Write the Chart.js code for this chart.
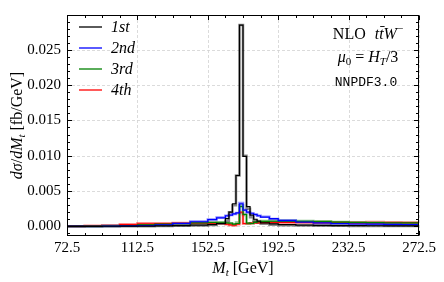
<!DOCTYPE html>
<html>
<head>
<meta charset="utf-8">
<script src="https://cdn.jsdelivr.net/npm/chart.js@4.4.1/dist/chart.umd.min.js"></script>
<style>
  html, body { margin: 0; padding: 0; background: #fff; }
</style>
</head>
<body>
<canvas id="chart" width="444" height="282"></canvas>
<script>
// bin edges in GeV (finer near the peak)
const binEdges = [
  72.5, 82.5, 92.5, 102.5, 112.5, 122.5, 132.5, 142.5, 152.5, 157.5, 162.5,
  164.5, 166.5, 168.5, 170.5, 172.5, 174.5, 176.5, 178.5, 180.5, 182.5,
  187.5, 192.5, 202.5, 212.5, 222.5, 232.5, 242.5, 252.5, 262.5, 272.5,
];

const seriesNames = ['1st', '2nd', '3rd', '4th'];

const first = [
  0.00000, 0.00000, 0.00001, 0.00002, 0.00004, 0.00006, 0.00010, 0.00016, 0.00025, 0.00040,
  0.00110, 0.00200, 0.00320, 0.00720, 0.02850, 0.00990, 0.00280, 0.00160, 0.00100, 0.00075,
  0.00050, 0.00035, 0.00025, 0.00018, 0.00014, 0.00011, 0.00009, 0.00008, 0.00007, 0.00006,
];
const firstBand = [
  0.00000, 0.00000, 0.00000, 0.00001, 0.00002, 0.00004, 0.00007, 0.00012, 0.00020, 0.00035,
  0.00080, 0.00200, 0.00300, 0.00720, 0.02850, 0.01000, 0.00250, 0.00130, 0.00080, 0.00055,
  0.00035, 0.00022, 0.00015, 0.00010, 0.00008, 0.00007, 0.00006, 0.00005, 0.00005, 0.00005,
];
const second = [
  0.00000, 0.00001, 0.00003, 0.00006, 0.00012, 0.00022, 0.00040, 0.00065, 0.00095, 0.00120,
  0.00150, 0.00160, 0.00175, 0.00190, 0.00320, 0.00230, 0.00200, 0.00185, 0.00170, 0.00150,
  0.00130, 0.00110, 0.00080, 0.00060, 0.00050, 0.00040, 0.00033, 0.00030, 0.00028, 0.00026,
];
const secondBand = [
  0.00000, 0.00001, 0.00003, 0.00007, 0.00014, 0.00025, 0.00043, 0.00068, 0.00098, 0.00125,
  0.00150, 0.00160, 0.00175, 0.00190, 0.00330, 0.00230, 0.00195, 0.00180, 0.00165, 0.00150,
  0.00135, 0.00105, 0.00085, 0.00060, 0.00045, 0.00035, 0.00028, 0.00026, 0.00024, 0.00022,
];
const third = [
  0.00000, 0.00002, 0.00006, 0.00012, 0.00020, 0.00030, 0.00040, 0.00048, 0.00055, 0.00058,
  0.00050, 0.00045, 0.00030, 0.00040, 0.00280, 0.00170, 0.00045, 0.00040, 0.00055, 0.00065,
  0.00070, 0.00072, 0.00072, 0.00070, 0.00068, 0.00060, 0.00055, 0.00052, 0.00050, 0.00048,
];
const thirdBand = [
  0.00000, 0.00002, 0.00005, 0.00010, 0.00018, 0.00028, 0.00038, 0.00046, 0.00052, 0.00055,
  0.00048, 0.00040, 0.00028, 0.00055, 0.00300, 0.00160, 0.00040, 0.00042, 0.00060, 0.00070,
  0.00075, 0.00078, 0.00078, 0.00076, 0.00072, 0.00060, 0.00052, 0.00050, 0.00048, 0.00046,
];
const fourth = [
  0.00000, 0.00005, 0.00012, 0.00025, 0.00035, 0.00038, 0.00042, 0.00045, 0.00045, 0.00040,
  0.00030, 0.00020, 0.00015, 0.00030, 0.00200, 0.00040, 0.00040, 0.00045, 0.00048, 0.00050,
  0.00052, 0.00052, 0.00052, 0.00052, 0.00050, 0.00050, 0.00050, 0.00050, 0.00052, 0.00052,
];
const fourthBand = [
  0.00002, 0.00008, 0.00016, 0.00030, 0.00042, 0.00045, 0.00048, 0.00048, 0.00046, 0.00040,
  0.00028, 0.00018, 0.00013, 0.00028, 0.00190, 0.00035, 0.00038, 0.00045, 0.00050, 0.00055,
  0.00058, 0.00058, 0.00056, 0.00058, 0.00060, 0.00058, 0.00056, 0.00060, 0.00058, 0.00055,
];

const xTicks = [72.5, 112.5, 152.5, 192.5, 232.5, 272.5];
const yTicks = [0, 0.005, 0.01, 0.015, 0.02, 0.025];
const xMinorStep = 10;
const yMinorStep = 0.001;

const colors = ['#000000', '#0000ff', '#008000', '#ff0000'];
const lightColors = ['rgba(0,0,0,0.45)', 'rgba(0,0,255,0.45)', 'rgba(0,128,0,0.45)', 'rgba(255,0,0,0.45)'];

const serif = '"Liberation Serif", "Times New Roman", serif';
const mono = '"Liberation Mono", "DejaVu Sans Mono", monospace';

// histogram -> points with both edges of every bin
const toSteps = (values) => {
  const pts = [];
  values.forEach((v, i) => {
    pts.push({ x: binEdges[i], y: v });
    pts.push({ x: binEdges[i + 1], y: v });
  });
  return pts;
};

const mainSets = [first, second, third, fourth];
const bandSets = [firstBand, secondBand, thirdBand, fourthBand];

const datasets = [];
mainSets.forEach((vals, i) => {
  datasets.push({
    label: seriesNames[i],
    data: toSteps(vals),
    borderColor: colors[i],
    borderWidth: 1.2,
    pointRadius: 0,
    fill: false,
    tension: 0,
    order: 0,
  });
});
bandSets.forEach((vals, i) => {
  datasets.push({
    label: seriesNames[i] + ' band',
    data: toSteps(vals),
    borderColor: lightColors[i],
    borderWidth: 2.5,
    pointRadius: 0,
    fill: false,
    tension: 0,
    order: 1,
  });
});

// draws a sequence of text pieces centred on cx, baseline y
const drawRun = (ctx, parts, cx, y) => {
  let total = 0;
  parts.forEach((p) => {
    ctx.font = `${p.i ? 'italic ' : ''}${p.s}px ${p.f || serif}`;
    p.w = ctx.measureText(p.t).width;
    total += p.w + (p.g || 0);
  });
  let x = cx - total / 2;
  ctx.textAlign = 'left';
  ctx.textBaseline = 'alphabetic';
  parts.forEach((p) => {
    ctx.font = `${p.i ? 'italic ' : ''}${p.s}px ${p.f || serif}`;
    ctx.fillText(p.t, x, y + (p.dy || 0));
    if (p.bar) {
      ctx.beginPath();
      ctx.lineWidth = 0.9;
      ctx.moveTo(x + 1, y - 12.5);
      ctx.lineTo(x + p.w + 1, y - 12.5);
      ctx.stroke();
    }
    x += p.w + (p.g || 0);
  });
};

const decor = {
  id: 'decor',
  beforeDatasetsDraw(chart) {
    const { ctx, chartArea: a, scales: { x, y } } = chart;
    ctx.save();
    ctx.strokeStyle = '#d2d2d2';
    ctx.lineWidth = 0.8;
    ctx.setLineDash([3, 2]);
    xTicks.forEach((v) => {
      const px = Math.round(x.getPixelForValue(v)) + 0.5;
      ctx.beginPath();
      ctx.moveTo(px, a.top);
      ctx.lineTo(px, a.bottom);
      ctx.stroke();
    });
    yTicks.forEach((v) => {
      const py = Math.round(y.getPixelForValue(v)) + 0.5;
      ctx.beginPath();
      ctx.moveTo(a.left, py);
      ctx.lineTo(a.right, py);
      ctx.stroke();
    });
    ctx.restore();
  },
  afterDraw(chart) {
    const { ctx, chartArea: a, scales: { x, y } } = chart;
    const L = Math.round(a.left) + 0.5;
    const R = Math.round(a.right) - 0.5;
    const T = Math.round(a.top) + 0.5;
    const B = Math.round(a.bottom) - 0.5;
    ctx.save();
    ctx.strokeStyle = '#000';
    ctx.fillStyle = '#000';
    ctx.lineWidth = 1;
    ctx.strokeRect(L, T, R - L, B - T);

    const tick = (x1, y1, x2, y2) => {
      ctx.beginPath();
      ctx.moveTo(x1, y1);
      ctx.lineTo(x2, y2);
      ctx.stroke();
    };
    // x ticks, top and bottom, inward
    for (let v = xTicks[0]; v <= xTicks[xTicks.length - 1] + 1e-9; v += xMinorStep) {
      const major = xTicks.some((t) => Math.abs(t - v) < 1e-6);
      const len = major ? 4.5 : 2.5;
      const px = Math.round(x.getPixelForValue(v)) + 0.5;
      tick(px, B, px, B - len);
      tick(px, T, px, T + len);
    }
    // y ticks, left and right, inward
    for (let k = -1; k <= 29; k++) {
      const v = k * yMinorStep;
      const major = yTicks.some((t) => Math.abs(t - v) < 1e-9);
      const len = major ? 4.5 : 2.5;
      const py = Math.round(y.getPixelForValue(v)) + 0.5;
      if (py < T || py > B) continue;
      tick(L, py, L + len, py);
      tick(R, py, R - len, py);
    }

    // legend
    ctx.textAlign = 'left';
    ctx.textBaseline = 'alphabetic';
    seriesNames.forEach((name, i) => {
      const ly = 27 + i * 21;
      ctx.strokeStyle = colors[i];
      ctx.lineWidth = 1.3;
      tick(79, ly, 102, ly);
      ctx.font = `italic 16px ${serif}`;
      ctx.fillText(name, 111, ly + 5);
    });

    // annotation
    ctx.strokeStyle = '#000';
    const cx = 368;
    drawRun(ctx, [
      { t: 'NLO', s: 16, g: 9 },
      { t: 't', s: 16, i: true },
      { t: 't', s: 16, i: true, bar: true },
      { t: 'W', s: 16, i: true },
      { t: '\u2212', s: 11, dy: -7 },
    ], cx, 39);
    drawRun(ctx, [
      { t: '\u03bc', s: 16, i: true },
      { t: '0', s: 11, dy: 3, g: 4 },
      { t: '=', s: 16, g: 4 },
      { t: 'H', s: 16, i: true },
      { t: 'T', s: 11, i: true, dy: 3 },
      { t: '/3', s: 16 },
    ], cx, 62);
    drawRun(ctx, [{ t: 'NNPDF3.0', s: 13, f: mono }], cx - 2, 86);

    // axis titles
    drawRun(ctx, [
      { t: 'M', s: 16, i: true },
      { t: 't', s: 11, i: true, dy: 3, g: 4 },
      { t: '[GeV]', s: 16 },
    ], (a.left + a.right) / 2, 273);

    ctx.translate(22, (a.top + a.bottom) / 2);
    ctx.rotate(-Math.PI / 2);
    drawRun(ctx, [
      { t: 'd\u03c3', s: 16, i: true },
      { t: '/', s: 16 },
      { t: 'dM', s: 16, i: true },
      { t: 't', s: 11, i: true, dy: 3, g: 4 },
      { t: '[fb/GeV]', s: 16 },
    ], 0, 0);
    ctx.restore();
  },
};

new Chart(document.getElementById('chart'), {
  type: 'line',
  data: { datasets },
  plugins: [decor],
  options: {
    responsive: false,
    animation: false,
    devicePixelRatio: 1,
    layout: { padding: { left: 0, right: 25, top: 7, bottom: 0 } },
    plugins: {
      legend: { display: false },
      tooltip: { enabled: false },
    },
    scales: {
      x: {
        type: 'linear',
        min: 72.5,
        max: 272.5,
        afterBuildTicks: (s) => { s.ticks = xTicks.map((v) => ({ value: v })); },
        afterFit: (s) => { s.height = 46; },
        grid: { display: false, drawTicks: false },
        border: { display: false },
        ticks: {
          autoSkip: false,
          maxRotation: 0,
          padding: 3,
          color: '#000',
          font: { family: serif, size: 15 },
          callback: (v) => Number(v).toFixed(1),
        },
      },
      y: {
        type: 'linear',
        min: -0.00137,
        max: 0.02993,
        afterBuildTicks: (s) => { s.ticks = yTicks.map((v) => ({ value: v })); },
        afterFit: (s) => { s.width = 67; },
        grid: { display: false, drawTicks: false },
        border: { display: false },
        ticks: {
          padding: 6,
          color: '#000',
          font: { family: serif, size: 15 },
          callback: (v) => Number(v).toFixed(3),
        },
      },
    },
  },
});
</script>
</body>
</html>
